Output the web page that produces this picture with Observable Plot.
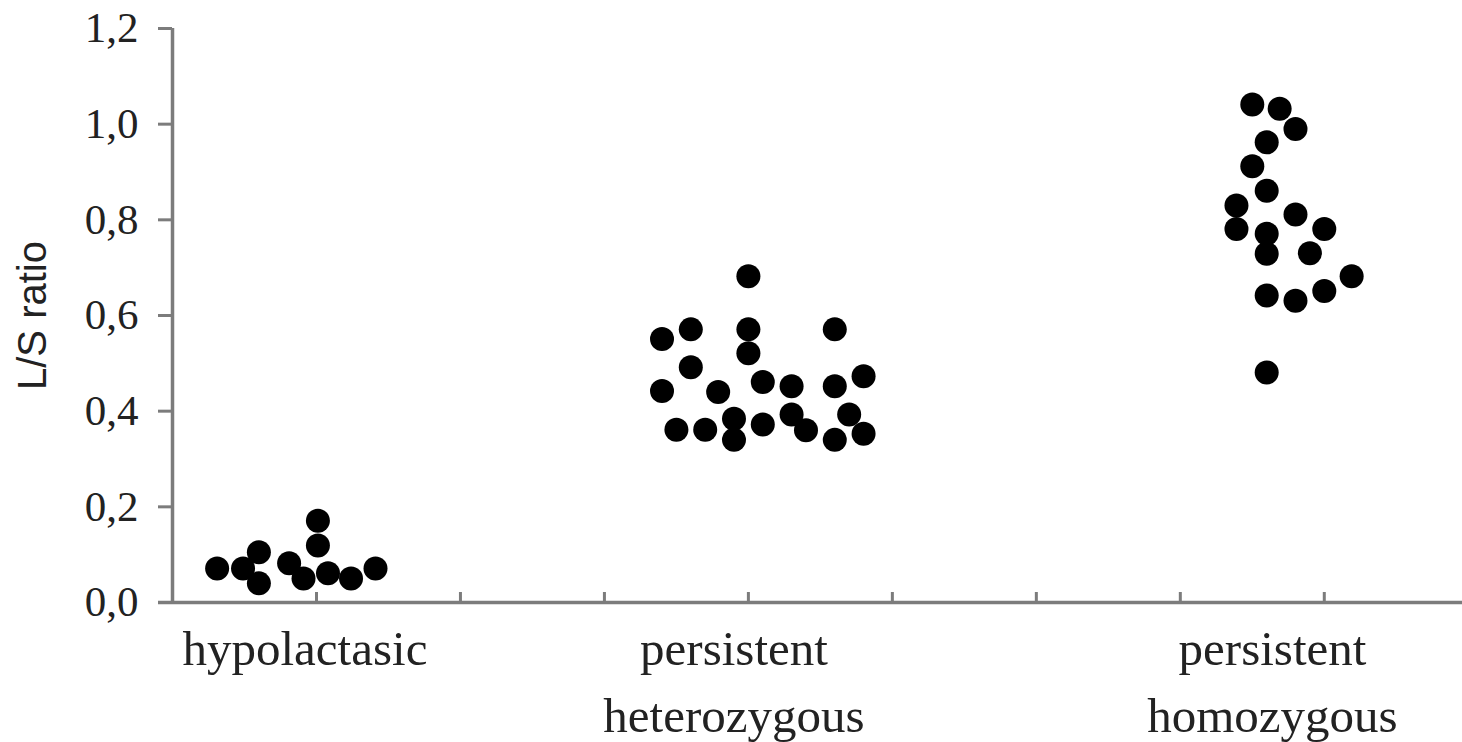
<!DOCTYPE html>
<html>
<head>
<meta charset="utf-8">
<script src="https://cdn.jsdelivr.net/npm/d3@7"></script>
<script src="https://cdn.jsdelivr.net/npm/@observablehq/plot@0.6"></script>
<style>
  html, body { margin: 0; padding: 0; background: #fff; }
  svg { display: block; }
</style>
</head>
<body>
<div id="chart"></div>
<script>
// ---- data ----
const categories = ["hypolactasic", "persistent\nheterozygous", "persistent\nhomozygous"];
const categoryLabelX = [0.92, 3.9, 7.64];

const hypoX = [0.31, 0.49, 0.60, 0.60, 0.81, 0.91, 1.01, 1.01, 1.08, 1.24, 1.41];
const hypoY = [0.071, 0.071, 0.105, 0.040, 0.082, 0.050, 0.171, 0.119, 0.061, 0.050, 0.071];

const heteroX = [4.00, 3.40, 3.60, 4.00, 4.60, 4.00, 3.60, 3.40, 3.79, 4.10, 4.30, 4.60, 4.80, 3.50, 3.70, 3.90, 3.90, 4.10, 4.30, 4.40, 4.60, 4.70, 4.80];
const heteroY = [0.682, 0.551, 0.571, 0.571, 0.571, 0.521, 0.492, 0.442, 0.440, 0.461, 0.452, 0.452, 0.473, 0.361, 0.361, 0.384, 0.340, 0.372, 0.393, 0.360, 0.340, 0.393, 0.353];

const homoX = [7.50, 7.69, 7.80, 7.60, 7.50, 7.60, 7.39, 7.80, 7.39, 7.60, 8.00, 7.60, 7.90, 8.19, 7.60, 7.80, 8.00, 7.60];
const homoY = [1.041, 1.032, 0.990, 0.962, 0.912, 0.861, 0.830, 0.811, 0.781, 0.771, 0.781, 0.729, 0.730, 0.682, 0.642, 0.631, 0.651, 0.481];

const yTicks = [0, 0.2, 0.4, 0.6, 0.8, 1.0, 1.2];
const xTicks = [1, 2, 3, 4, 5, 6, 7, 8];
const yLabel = "L/S ratio";

// ---- build table ----
const points = [
  ...hypoX.map((x, i) => ({group: categories[0], x, y: hypoY[i]})),
  ...heteroX.map((x, i) => ({group: categories[1], x, y: heteroY[i]})),
  ...homoX.map((x, i) => ({group: categories[2], x, y: homoY[i]}))
];
const labels = categories.map((c, i) => ({label: c, x: categoryLabelX[i]}));

const axisColor = "#7c7c7c";
const serif = "'Liberation Serif', 'Times New Roman', serif";
const sans = "'Liberation Sans', Arial, sans-serif";
const fmt = d => d.toFixed(1).replace(".", ",");

const chart = Plot.plot({
  width: 1462,
  height: 742,
  marginLeft: 172,
  marginRight: 0,
  marginTop: 28,
  marginBottom: 140,
  style: {background: "#fff", color: "#222"},
  x: {domain: [0, 8.96]},
  y: {domain: [0, 1.2]},
  marks: [
    // y axis ticks + labels
    Plot.axisY({
      ticks: yTicks,
      tickFormat: fmt,
      tickSize: 14,
      tickPadding: 20,
      stroke: axisColor,
      strokeWidth: 3,
      fontSize: 43,
      fontFamily: serif,
      fill: "#222",
      label: null
    }),
    // x axis inward ticks
    Plot.axisX({
      ticks: xTicks,
      tickSize: 10,
      dy: -10,
      stroke: axisColor,
      strokeWidth: 3,
      text: null,
      label: null
    }),
    // axis lines
    Plot.ruleX([0], {stroke: axisColor, strokeWidth: 3.5}),
    Plot.ruleY([0], {stroke: axisColor, strokeWidth: 3.5, insetLeft: -14}),
    // data points
    Plot.dot(points, {x: "x", y: "y", r: 12, fill: "#000", stroke: "none"}),
    // category labels below the axis
    Plot.text(labels, {
      x: "x",
      y: () => 0,
      text: "label",
      lineAnchor: "top",
      lineHeight: 1.38,
      dy: 14,
      fontSize: 49,
      fontFamily: serif,
      fill: "#222"
    }),
    // y axis title
    Plot.text([yLabel], {
      frameAnchor: "left",
      text: d => d,
      textAnchor: "middle",
      rotate: -90,
      dx: -139,
      fontSize: 40,
      fontFamily: sans,
      fill: "#222"
    })
  ]
});

document.getElementById("chart").appendChild(chart);
</script>
</body>
</html>
